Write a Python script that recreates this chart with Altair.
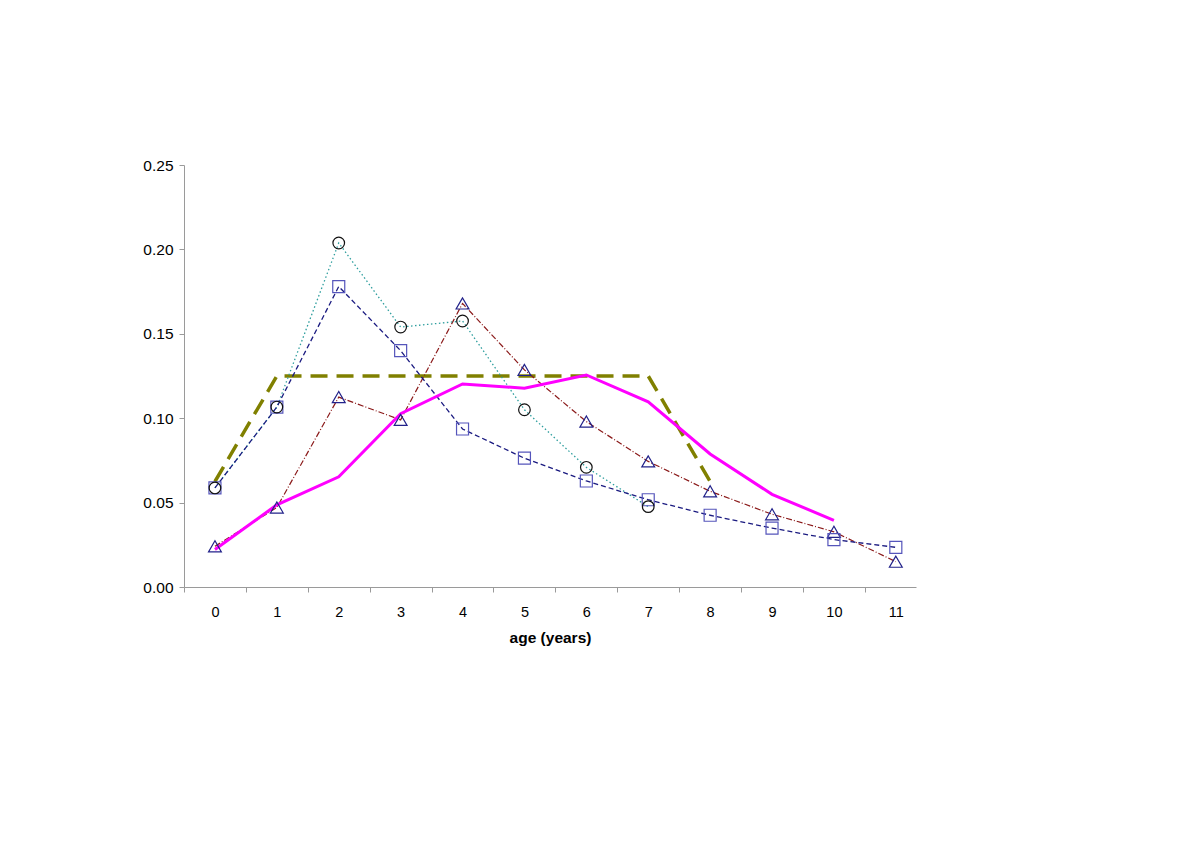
import altair as alt
import pandas as pd

ages = list(range(12))
circle_vals = [0.0587, 0.1066, 0.2038, 0.1540, 0.1576, 0.1050, 0.0709, 0.0476]
square_vals = [0.0587, 0.1066, 0.1780, 0.1400, 0.0936, 0.0763, 0.0628, 0.0517, 0.0425, 0.0349, 0.0281, 0.0235]
triangle_vals = [0.0241, 0.0471, 0.1125, 0.0990, 0.1680, 0.1286, 0.0980, 0.0744, 0.0567, 0.0431, 0.0327, 0.0150]
magenta_vals = [0.0222, 0.0487, 0.0653, 0.1027, 0.1203, 0.1178, 0.1256, 0.1097, 0.0788, 0.0549, 0.0395]
olive_vals = [0.0625, 0.125, 0.125, 0.125, 0.125, 0.125, 0.125, 0.125, 0.0625]
y_ticks = [0.0, 0.05, 0.10, 0.15, 0.20, 0.25]
# axis ticks sit between the ages, labels on the ages
x_axis_values = sorted(ages + [a - 0.5 for a in ages])

FONT = "Liberation Sans"


def frame(vals):
    return pd.DataFrame({"age": ages[: len(vals)], "value": vals})


x_enc = alt.X(
    "age:Q",
    scale=alt.Scale(domain=[-0.5, 11.326], nice=False, zero=False),
    axis=alt.Axis(
        title="age (years)",
        values=x_axis_values,
        labelExpr="datum.value % 1 === 0 ? format(datum.value, 'd') : ''",
        labelOverlap=False,
        labelFlush=False,
        labelAngle=0,
        domainColor="#9a9a9a",
        tickColor="#9a9a9a",
        tickOpacity={"condition": {"test": "datum.value % 1 === 0", "value": 0}, "value": 1},
        tickSize=5,
        labelPadding=13,
        labelFontSize=14.5,
        labelFont=FONT,
        labelColor="#000000",
        titleFont=FONT,
        titleFontSize=15.5,
        titleFontWeight="bold",
        titleColor="#000000",
        titlePadding=12,
        grid=False,
    ),
)
y_enc = alt.Y(
    "value:Q",
    scale=alt.Scale(domain=[0, 0.25], nice=False),
    axis=alt.Axis(
        title=None,
        values=y_ticks,
        format=".2f",
        domainColor="#9a9a9a",
        tickColor="#9a9a9a",
        tickSize=5,
        labelPadding=6,
        labelFontSize=15.5,
        labelFont=FONT,
        labelColor="#000000",
        grid=False,
    ),
)


def line(vals, color, width, dash=None):
    kw = dict(color=color, strokeWidth=width)
    if dash:
        kw["strokeDash"] = dash
    return alt.Chart(frame(vals)).mark_line(**kw).encode(x=x_enc, y=y_enc)


def pts(vals, shape, color, size):
    return (
        alt.Chart(frame(vals))
        .mark_point(shape=shape, color=color, size=size, filled=False, strokeWidth=1.2, opacity=1)
        .encode(x=x_enc, y=y_enc)
    )


layers = [
    line(olive_vals, "#808000", 3.5, [17, 9]),
    line(triangle_vals, "#8b1a1a", 1.2, [6, 2, 1, 2]),
    line(circle_vals, "#2e9e9e", 1.3, [1.5, 2.5]),
    line(square_vals, "#1a1a80", 1.3, [5, 3]),
    line(magenta_vals, "#ff00ff", 3),
    pts(triangle_vals, "triangle-up", "#22228a", 165),
    pts(square_vals, "square", "#5555bb", 144),
    pts(circle_vals, "circle", "#111111", 135),
]

chart = (
    alt.layer(*layers)
    .properties(
        width=732,
        height=422,
        autosize=alt.AutoSizeParams(type="none"),
        padding={"left": 176, "top": 157, "right": 120, "bottom": 120},
    )
    .configure_view(stroke=None)
)

chart.save("out.html", embed_options={"renderer": "svg", "actions": False})
